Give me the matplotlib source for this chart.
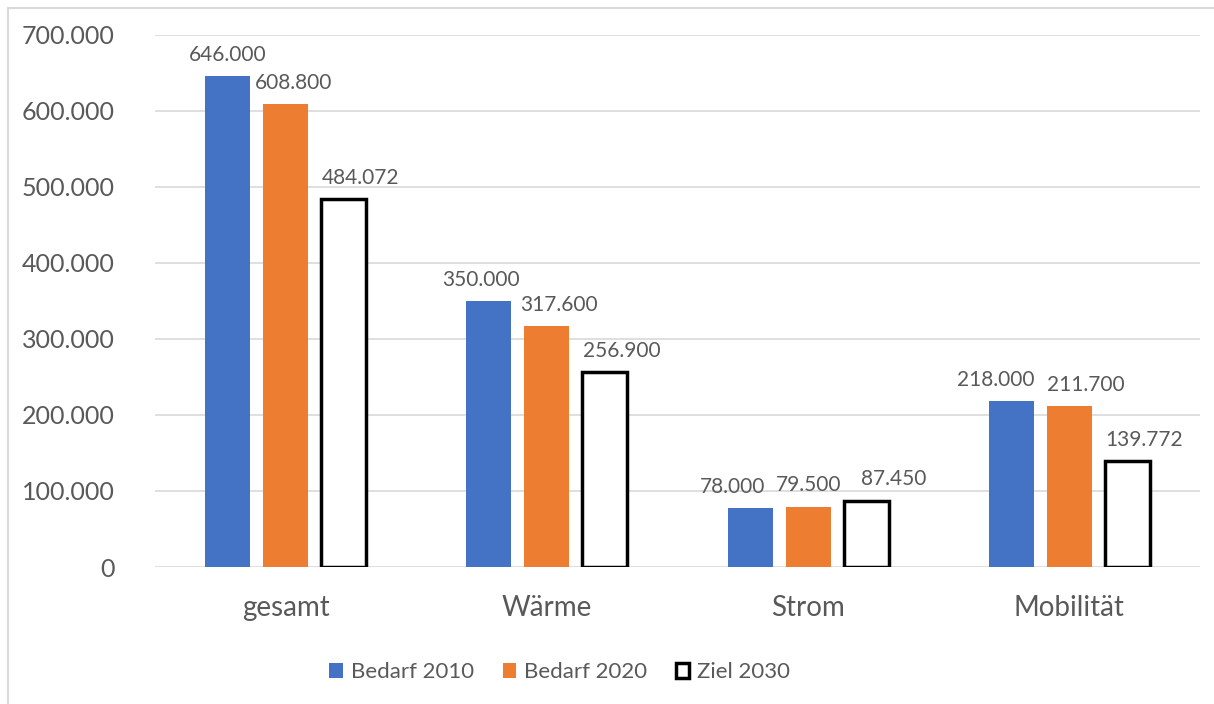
import matplotlib
matplotlib.use("Agg")
import matplotlib.pyplot as plt
from matplotlib.lines import Line2D
from matplotlib.ticker import FuncFormatter
import numpy as np

plt.rcParams['font.family'] = ['Lato', 'DejaVu Sans']

kategorien = ['gesamt', 'Wärme', 'Strom', 'Mobilität']
bedarf_2010 = [646000, 350000, 78000, 218000]
bedarf_2020 = [608800, 317600, 79500, 211700]
ziel_2030 = [484072, 256900, 87450, 139772]

# seitliche Verschiebung der Wertbeschriftungen (Punkte), damit sie sich nicht überlappen
versatz = [
    [0, -6, -13, -11],
    [6, 9, 0, 12],
    [12, 12, 20, 12],
]

grau = '#595959'

def de_format(v, pos=None):
    # deutsche Tausendertrennung mit Punkt
    return f"{v:,.0f}".replace(",", ".")

fig = plt.figure(figsize=(12.14, 7.04), dpi=100)
ax = fig.add_axes([0.1277, 0.1946, 0.8608, 0.7557])

x = np.arange(len(kategorien))
w = 0.172
d = 0.222

serien = [
    (bedarf_2010, -d, dict(color='#4472C4', label='Bedarf 2010')),
    (bedarf_2020, 0, dict(color='#ED7D31', label='Bedarf 2020')),
    (ziel_2030, d, dict(color='white', edgecolor='black', linewidth=2.5, label='Ziel 2030')),
]

for i, (werte, off, stil) in enumerate(serien):
    bars = ax.bar(x + off, werte, w, zorder=3, **stil)
    for j, (b, v) in enumerate(zip(bars, werte)):
        ax.annotate(de_format(v), (b.get_x() + b.get_width() / 2, v),
                    xytext=(versatz[i][j], 8), textcoords='offset points',
                    ha='center', va='bottom', fontsize=15, color=grau)

ax.set_xlim(-0.5, 3.5)
ax.set_ylim(0, 700000)
ax.set_yticks(np.arange(0, 700001, 100000))
ax.yaxis.set_major_formatter(FuncFormatter(de_format))
ax.set_xticks(x)
ax.set_xticklabels(kategorien)
ax.tick_params(axis='y', length=0, pad=29, labelsize=18, labelcolor=grau)
ax.tick_params(axis='x', length=0, pad=20, labelsize=20, labelcolor=grau)
ax.grid(axis='y', color='#D9D9D9', linewidth=1.2, zorder=0)
for s in ax.spines.values():
    s.set_visible(False)

fig.legend(loc='center', bbox_to_anchor=(0.461, 0.045), ncol=3, frameon=False,
           fontsize=16, labelcolor=grau, handlelength=0.6, handleheight=0.6,
           handletextpad=0.35, columnspacing=1.3)

# Rahmenlinien links und oben
fig.add_artist(Line2D([8 / 1214, 8 / 1214], [0, 1 - 8 / 704], color='#D9D9D9', lw=1.5))
fig.add_artist(Line2D([8 / 1214, 1], [1 - 8 / 704, 1 - 8 / 704], color='#D9D9D9', lw=1.5))

fig.savefig('out.png', dpi=100)
